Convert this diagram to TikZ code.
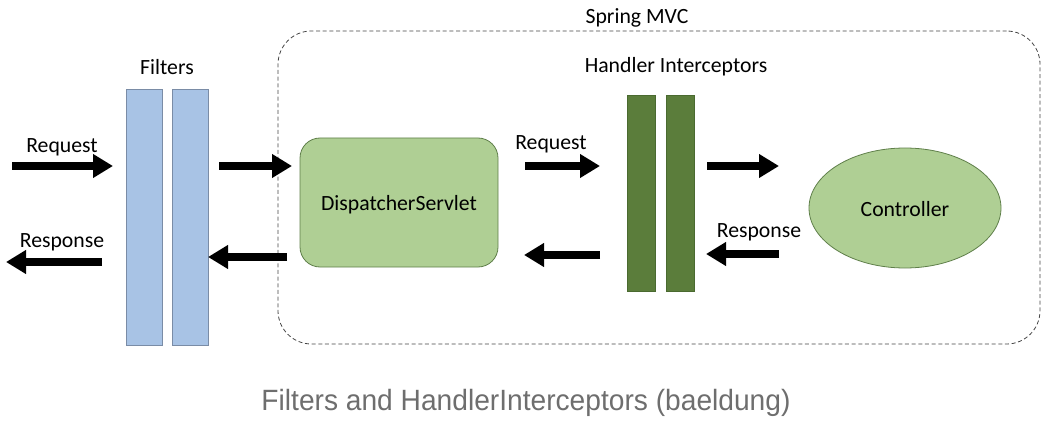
\documentclass[tikz,border=0pt]{standalone}
\usepackage{fontspec}
\setmainfont{Carlito}
\newfontfamily\capfont{Liberation Sans}
\usetikzlibrary{arrows.meta,shapes.geometric}
\definecolor{fblue}{HTML}{A8C3E5}
\definecolor{fblueb}{HTML}{7A8CA6}
\definecolor{lgreen}{HTML}{AFCF94}
\definecolor{lgreenb}{HTML}{5F7F4A}
\definecolor{dgreen}{HTML}{5B7D3B}
\definecolor{dgreenb}{HTML}{4A6A30}
\definecolor{capgray}{HTML}{6E6E6E}
\definecolor{dashgray}{HTML}{444444}
\tikzset{
  lbl/.style={font=\fontsize{16.3pt}{18pt}\selectfont, inner sep=0pt},
  fbar/.style={draw=fblueb, fill=fblue, line width=0.6pt, minimum width=27pt, minimum height=192pt, inner sep=0pt, outer sep=0pt},
  hbar/.style={draw=dgreenb, fill=dgreen, line width=0.5pt, minimum width=21pt, minimum height=147pt, inner sep=0pt, outer sep=0pt},
  bigarrow/.style={line width=6pt, -{Triangle[width=17pt,length=15pt]}},
}
\begin{document}
\begin{tikzpicture}[x=0.75pt,y=-0.75pt]
\useasboundingbox (0,0) rectangle (1064,424);
% Spring MVC container
\node[draw=dashgray, dash pattern=on 3pt off 2pt, line width=0.6pt, rounded corners=25pt,
      minimum width=571.5pt, minimum height=234.75pt, inner sep=0pt] (mvc) at (659,187.5) {};
\node[lbl] (mvclbl) at (637,18) {Spring MVC};
\node[lbl] (hilbl) at (676,67) {Handler Interceptors};
\node[lbl] (filtlbl) at (167,67) {Filters};
% Filters
\node[fbar] (f1) at (144,217) {};
\node[fbar] (f2) at (190,217) {};
% Handler interceptors
\node[hbar] (h1) at (641,193) {};
\node[hbar] (h2) at (680,193) {};
% Dispatcher
\node[draw=lgreenb, fill=lgreen, line width=0.6pt, rounded corners=15pt,
      minimum width=148.5pt, minimum height=96.75pt, inner sep=0pt] (ds) at (399,202.5) {};
\node[lbl] (dslbl) at (399,205) {DispatcherServlet};
% Controller
\node[ellipse, draw=lgreenb, fill=lgreen, line width=0.6pt,
      minimum width=144pt, minimum height=90pt, inner sep=0pt] (ctrl) at (905,208) {};
\node[lbl] (ctrllbl) at (905,209) {Controller};
% arrow coordinates
\coordinate (a1s) at (12,166);  \coordinate (a1e) at (113,166);
\coordinate (a2s) at (102,262); \coordinate (a2e) at (6,262);
\coordinate (a3s) at (219,166); \coordinate (a3e) at (292,166);
\coordinate (a4s) at (287,257); \coordinate (a4e) at (208,257);
\coordinate (a5s) at (525,166); \coordinate (a5e) at (600,166);
\coordinate (a6s) at (600,255); \coordinate (a6e) at (524,255);
\coordinate (a7s) at (707,166); \coordinate (a7e) at (779,166);
\coordinate (a8s) at (779,254); \coordinate (a8e) at (706,254);
\draw[bigarrow] (a1s) -- (a1e);
\draw[bigarrow] (a2s) -- (a2e);
\draw[bigarrow] (a3s) -- (a3e);
\draw[bigarrow] (a4s) -- (a4e);
\draw[bigarrow] (a5s) -- (a5e);
\draw[bigarrow] (a6s) -- (a6e);
\draw[bigarrow] (a7s) -- (a7e);
\draw[bigarrow] (a8s) -- (a8e);
% labels
\node[lbl] (req1) at (62,147) {Request};
\node[lbl] (resp1) at (62,242) {Response};
\node[lbl] (req2) at (551,144) {Request};
\node[lbl] (resp2) at (759,232) {Response};
% caption
\node[inner sep=0pt, text=capgray] (cap) at (526,403)
  {\scalebox{0.96}[1]{\capfont\fontsize{22pt}{25pt}\selectfont Filters and HandlerInterceptors (baeldung)}};
\end{tikzpicture}
\end{document}
